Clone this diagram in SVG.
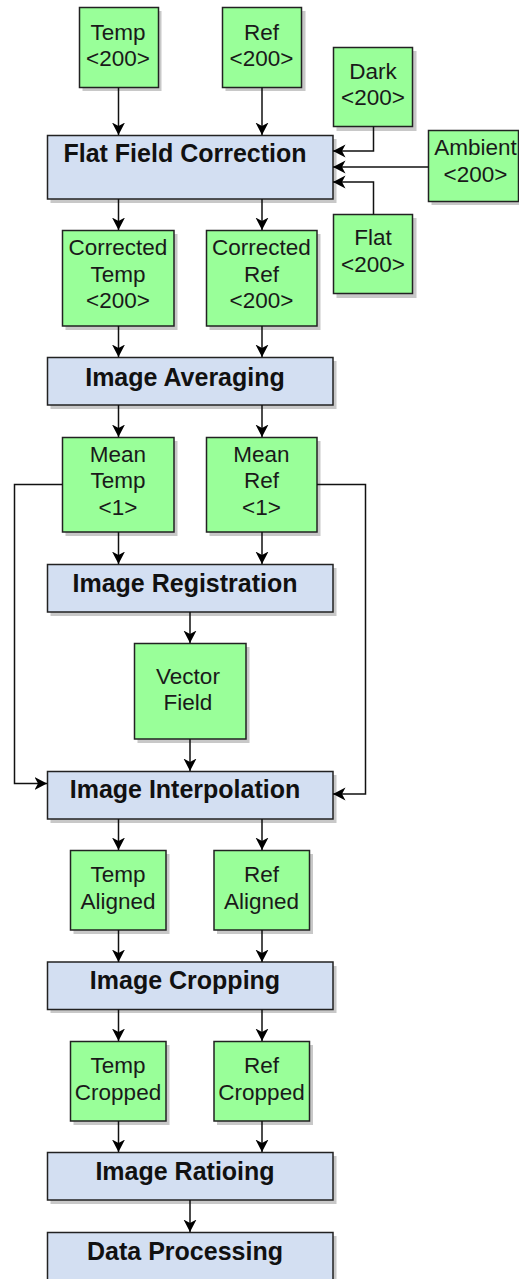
<svg xmlns="http://www.w3.org/2000/svg" width="519" height="1279" viewBox="0 0 519 1279">
<defs>
<style>
.sh{fill:#c8c8c8}
.d{fill:#99ff99;stroke:#222;stroke-width:1.5}
.p{fill:#d3dff2;stroke:#222;stroke-width:1.5}
.t{font-family:"Liberation Sans",Arial,Helvetica,sans-serif;font-size:22.5px;fill:#1a1a1a;text-anchor:middle}
.b{font-family:"Liberation Sans",Arial,Helvetica,sans-serif;font-size:25px;font-weight:bold;fill:#111;text-anchor:middle}
.c{fill:none;stroke:#111;stroke-width:1.5;marker-end:url(#ah)}
</style>
<marker id="ah" markerUnits="userSpaceOnUse" markerWidth="14" markerHeight="14" refX="12.5" refY="6.5" orient="auto">
<path d="M0,0 L12.5,6.5 L0,13 L3.5,6.5 z" fill="#000"/>
</marker>
</defs>
<rect width="519" height="1279" fill="#fff"/>

<g id="temp"><rect class="sh" x="82.5" y="11" width="79" height="80"/><rect class="d" x="79.5" y="7.5" width="79" height="80"/><text class="t" x="118" y="39.5">Temp</text><text class="t" x="118" y="66">&lt;200&gt;</text></g>
<g id="ref"><rect class="sh" x="225.5" y="11" width="80" height="80"/><rect class="d" x="222.5" y="7.5" width="79" height="80"/><text class="t" x="261.5" y="39.5">Ref</text><text class="t" x="261.5" y="66">&lt;200&gt;</text></g>
<g id="dark"><rect class="sh" x="336.5" y="51" width="80" height="80"/><rect class="d" x="333.5" y="47.5" width="79" height="79"/><text class="t" x="373" y="78.5">Dark</text><text class="t" x="373" y="105">&lt;200&gt;</text></g>
<g id="ambient"><rect class="sh" x="431.5" y="134" width="90" height="71"/><rect class="d" x="428.5" y="130.5" width="90" height="71"/><text class="t" x="475.5" y="155">Ambient</text><text class="t" x="475.5" y="181.5">&lt;200&gt;</text></g>
<g id="flat"><rect class="sh" x="336.5" y="218" width="80" height="80"/><rect class="d" x="333.5" y="214.5" width="79" height="79"/><text class="t" x="373" y="245">Flat</text><text class="t" x="373" y="271.5">&lt;200&gt;</text></g>

<g id="ffc"><rect class="sh" x="50.5" y="139" width="286" height="64"/><rect class="p" x="47.5" y="135.5" width="285.5" height="63.5"/><text class="b" x="185" y="162">Flat Field Correction</text></g>

<g id="ctemp"><rect class="sh" x="65.5" y="234" width="112" height="96"/><rect class="d" x="62.5" y="230.5" width="111.5" height="95.5"/><text class="t" x="118" y="255">Corrected</text><text class="t" x="118" y="281.5">Temp</text><text class="t" x="118" y="308">&lt;200&gt;</text></g>
<g id="cref"><rect class="sh" x="209.5" y="234" width="111" height="96"/><rect class="d" x="206.5" y="230.5" width="110.5" height="95.5"/><text class="t" x="261.5" y="255">Corrected</text><text class="t" x="261.5" y="281.5">Ref</text><text class="t" x="261.5" y="308">&lt;200&gt;</text></g>

<g id="ia"><rect class="sh" x="50.5" y="361" width="286" height="48"/><rect class="p" x="47.5" y="357.5" width="285.5" height="47.5"/><text class="b" x="185" y="386">Image Averaging</text></g>

<g id="mtemp"><rect class="sh" x="65.5" y="441" width="112" height="95"/><rect class="d" x="62.5" y="437.5" width="111.5" height="94.5"/><text class="t" x="118" y="461.5">Mean</text><text class="t" x="118" y="488">Temp</text><text class="t" x="118" y="515">&lt;1&gt;</text></g>
<g id="mref"><rect class="sh" x="209.5" y="441" width="111" height="95"/><rect class="d" x="206.5" y="437.5" width="110.5" height="94.5"/><text class="t" x="261.5" y="461.5">Mean</text><text class="t" x="261.5" y="488">Ref</text><text class="t" x="261.5" y="515">&lt;1&gt;</text></g>

<g id="ir"><rect class="sh" x="50.5" y="568" width="286" height="48"/><rect class="p" x="47.5" y="564.5" width="285.5" height="47.5"/><text class="b" x="185" y="592">Image Registration</text></g>

<g id="vf"><rect class="sh" x="137.5" y="647" width="112" height="96"/><rect class="d" x="134.5" y="643.5" width="111.5" height="95.5"/><text class="t" x="188" y="683.5">Vector</text><text class="t" x="188" y="709.5">Field</text></g>

<g id="ii"><rect class="sh" x="50.5" y="775" width="286" height="48"/><rect class="p" x="47.5" y="771.5" width="285.5" height="47.5"/><text class="b" x="185" y="798">Image Interpolation</text></g>

<g id="ta"><rect class="sh" x="73.5" y="854" width="96" height="80"/><rect class="d" x="70.5" y="850.5" width="95.5" height="79.5"/><text class="t" x="118" y="882">Temp</text><text class="t" x="118" y="908.5">Aligned</text></g>
<g id="ra"><rect class="sh" x="217" y="854" width="96" height="80"/><rect class="d" x="214" y="850.5" width="95.5" height="79.5"/><text class="t" x="261.5" y="882">Ref</text><text class="t" x="261.5" y="908.5">Aligned</text></g>

<g id="icrop"><rect class="sh" x="50.5" y="966" width="286" height="47"/><rect class="p" x="47.5" y="962" width="285.5" height="47.5"/><text class="b" x="185" y="988.5">Image Cropping</text></g>

<g id="tc"><rect class="sh" x="73.5" y="1045" width="96" height="80"/><rect class="d" x="70.5" y="1041.5" width="95.5" height="79.5"/><text class="t" x="118" y="1072.5">Temp</text><text class="t" x="118" y="1099.5">Cropped</text></g>
<g id="rc"><rect class="sh" x="217" y="1045" width="96" height="80"/><rect class="d" x="214" y="1041.5" width="95.5" height="79.5"/><text class="t" x="261.5" y="1072.5">Ref</text><text class="t" x="261.5" y="1099.5">Cropped</text></g>

<g id="irat"><rect class="sh" x="50.5" y="1156" width="286" height="48"/><rect class="p" x="47.5" y="1152.5" width="285.5" height="47.5"/><text class="b" x="185" y="1179.5">Image Ratioing</text></g>

<g id="dp"><rect class="sh" x="50.5" y="1236" width="286" height="48"/><rect class="p" x="47.5" y="1232.5" width="285.5" height="48"/><text class="b" x="185" y="1259.5">Data Processing</text></g>

<g id="connectors">
<path class="c" d="M118.5,87.5 V135"/>
<path class="c" d="M262,87.5 V135"/>
<path class="c" d="M373.5,126.5 V151 H333"/>
<path class="c" d="M428.5,167 H333"/>
<path class="c" d="M373.5,214.5 V182 H333"/>
<path class="c" d="M118.5,199 V230"/>
<path class="c" d="M262,199 V230"/>
<path class="c" d="M118.5,326 V357"/>
<path class="c" d="M262,326 V357"/>
<path class="c" d="M118.5,405 V437"/>
<path class="c" d="M262,405 V437"/>
<path class="c" d="M118.5,532 V564"/>
<path class="c" d="M262,532 V564"/>
<path class="c" d="M62.5,484.5 H14.5 V783.5 H47"/>
<path class="c" d="M317,484.5 H365.5 V794 H333"/>
<path class="c" d="M190,612 V643"/>
<path class="c" d="M190,739 V771"/>
<path class="c" d="M118.5,819 V850"/>
<path class="c" d="M262,819 V850"/>
<path class="c" d="M118.5,930 V962"/>
<path class="c" d="M262,930 V962"/>
<path class="c" d="M118.5,1009.5 V1041"/>
<path class="c" d="M262,1009.5 V1041"/>
<path class="c" d="M118.5,1121 V1152"/>
<path class="c" d="M262,1121 V1152"/>
<path class="c" d="M190,1200 V1232"/>
</g>
</svg>
